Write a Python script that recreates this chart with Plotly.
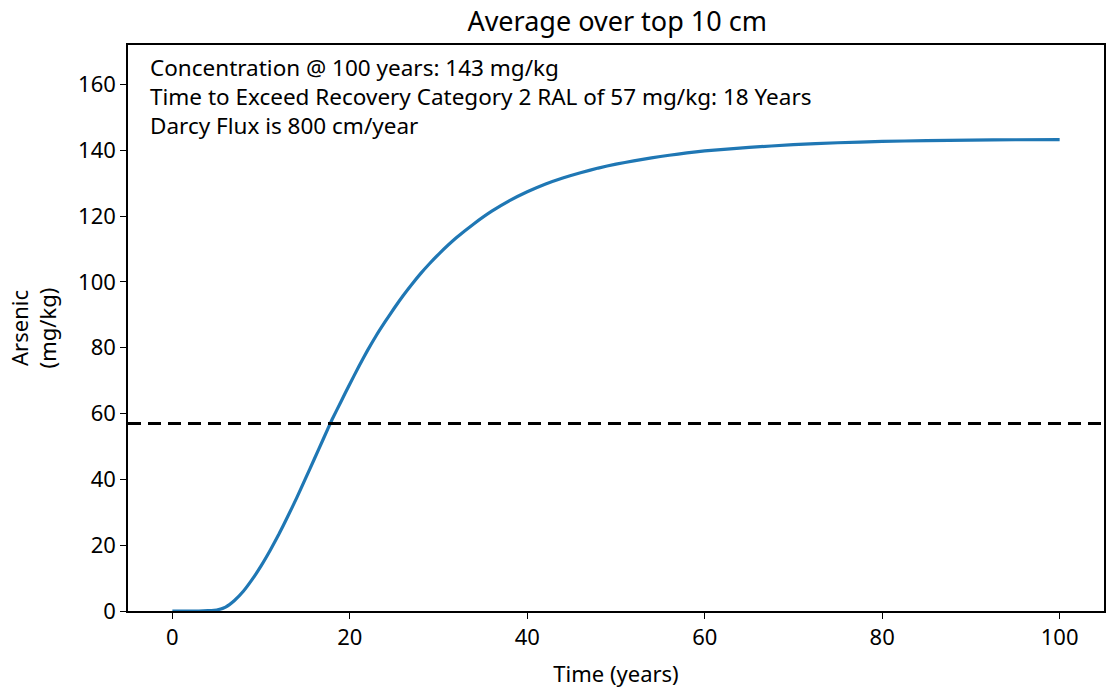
import plotly.graph_objects as go

time_years = [0, 1, 2, 3, 4, 5, 6, 7, 8, 9, 10, 11, 12, 13, 14, 15, 16, 17, 18, 19, 20,
              21, 22, 23, 24, 25, 26, 27, 28, 29, 30, 32, 34, 36, 38, 40, 42, 44, 46, 48,
              50, 52, 54, 56, 58, 60, 65, 70, 75, 80, 85, 90, 95, 100]
arsenic = [0, 0, 0, 0, 0.1, 0.3, 1.2, 3.2, 6.0, 9.6, 13.7, 18.3, 23.3, 28.7, 34.3, 40.2, 46.2,
           52.2, 58.2, 63.6, 69.0, 74.2, 79.2, 83.8, 88.0, 92.0, 95.8, 99.3, 102.6, 105.6, 108.4,
           113.4, 117.7, 121.5, 124.7, 127.4, 129.7, 131.6, 133.2, 134.6, 135.8, 136.8, 137.7,
           138.5, 139.2, 139.8, 140.9, 141.7, 142.3, 142.7, 142.95, 143.1, 143.2, 143.25]
ral_value = 57
x_ticks = [0, 20, 40, 60, 80, 100]
y_ticks = [0, 20, 40, 60, 80, 100, 120, 140, 160]
info_lines = [
    "Concentration @ 100 years: 143 mg/kg",
    "Time to Exceed Recovery Category 2 RAL of 57 mg/kg: 18 Years",
    "Darcy Flux is 800 cm/year",
]

FONT = "Noto Sans"

fig = go.Figure()
fig.add_trace(go.Scatter(x=time_years, y=arsenic, mode="lines",
                         line=dict(color="#1f77b4", width=3.2, shape="spline", smoothing=0.4),
                         showlegend=False, hoverinfo="x+y"))
fig.add_shape(type="line", xref="paper", yref="y", x0=0, x1=1, y0=ral_value, y1=ral_value,
              line=dict(color="black", width=3, dash="13px,7px"))

for i, txt in enumerate(info_lines):
    fig.add_annotation(text=txt, xref="paper", yref="paper", x=0.02, y=0.9594 - i * 0.0504,
                       xanchor="left", yanchor="middle", showarrow=False,
                       font=dict(family=FONT, size=22.5, color="black"))

fig.update_layout(
    width=1110, height=689,
    margin=dict(l=128, r=4, t=45, b=78),
    paper_bgcolor="white", plot_bgcolor="white",
    font=dict(family=FONT, size=22, color="black"),
    title=dict(text="Average over top 10 cm", x=0.556, xanchor="center", y=0.968, yanchor="middle",
               font=dict(family=FONT, size=27, color="black")),
    xaxis=dict(range=[-5, 105], tickvals=x_ticks, ticks="outside", ticklen=6, tickwidth=1.3,
               tickcolor="black", showline=True, linecolor="black", linewidth=1.5, mirror=True,
               showgrid=False, zeroline=False, tickfont=dict(size=22),
               title=dict(text="Time (years)", font=dict(size=22), standoff=16)),
    yaxis=dict(range=[0, 172], tickvals=y_ticks, ticks="outside", ticklen=6, tickwidth=1.3,
               tickcolor="black", showline=True, linecolor="black", linewidth=1.5, mirror=True,
               showgrid=False, zeroline=False, tickfont=dict(size=22),
               title=dict(text="Arsenic<br>(mg/kg)", font=dict(size=22), standoff=15)),
)

fig.write_html("out.html")
